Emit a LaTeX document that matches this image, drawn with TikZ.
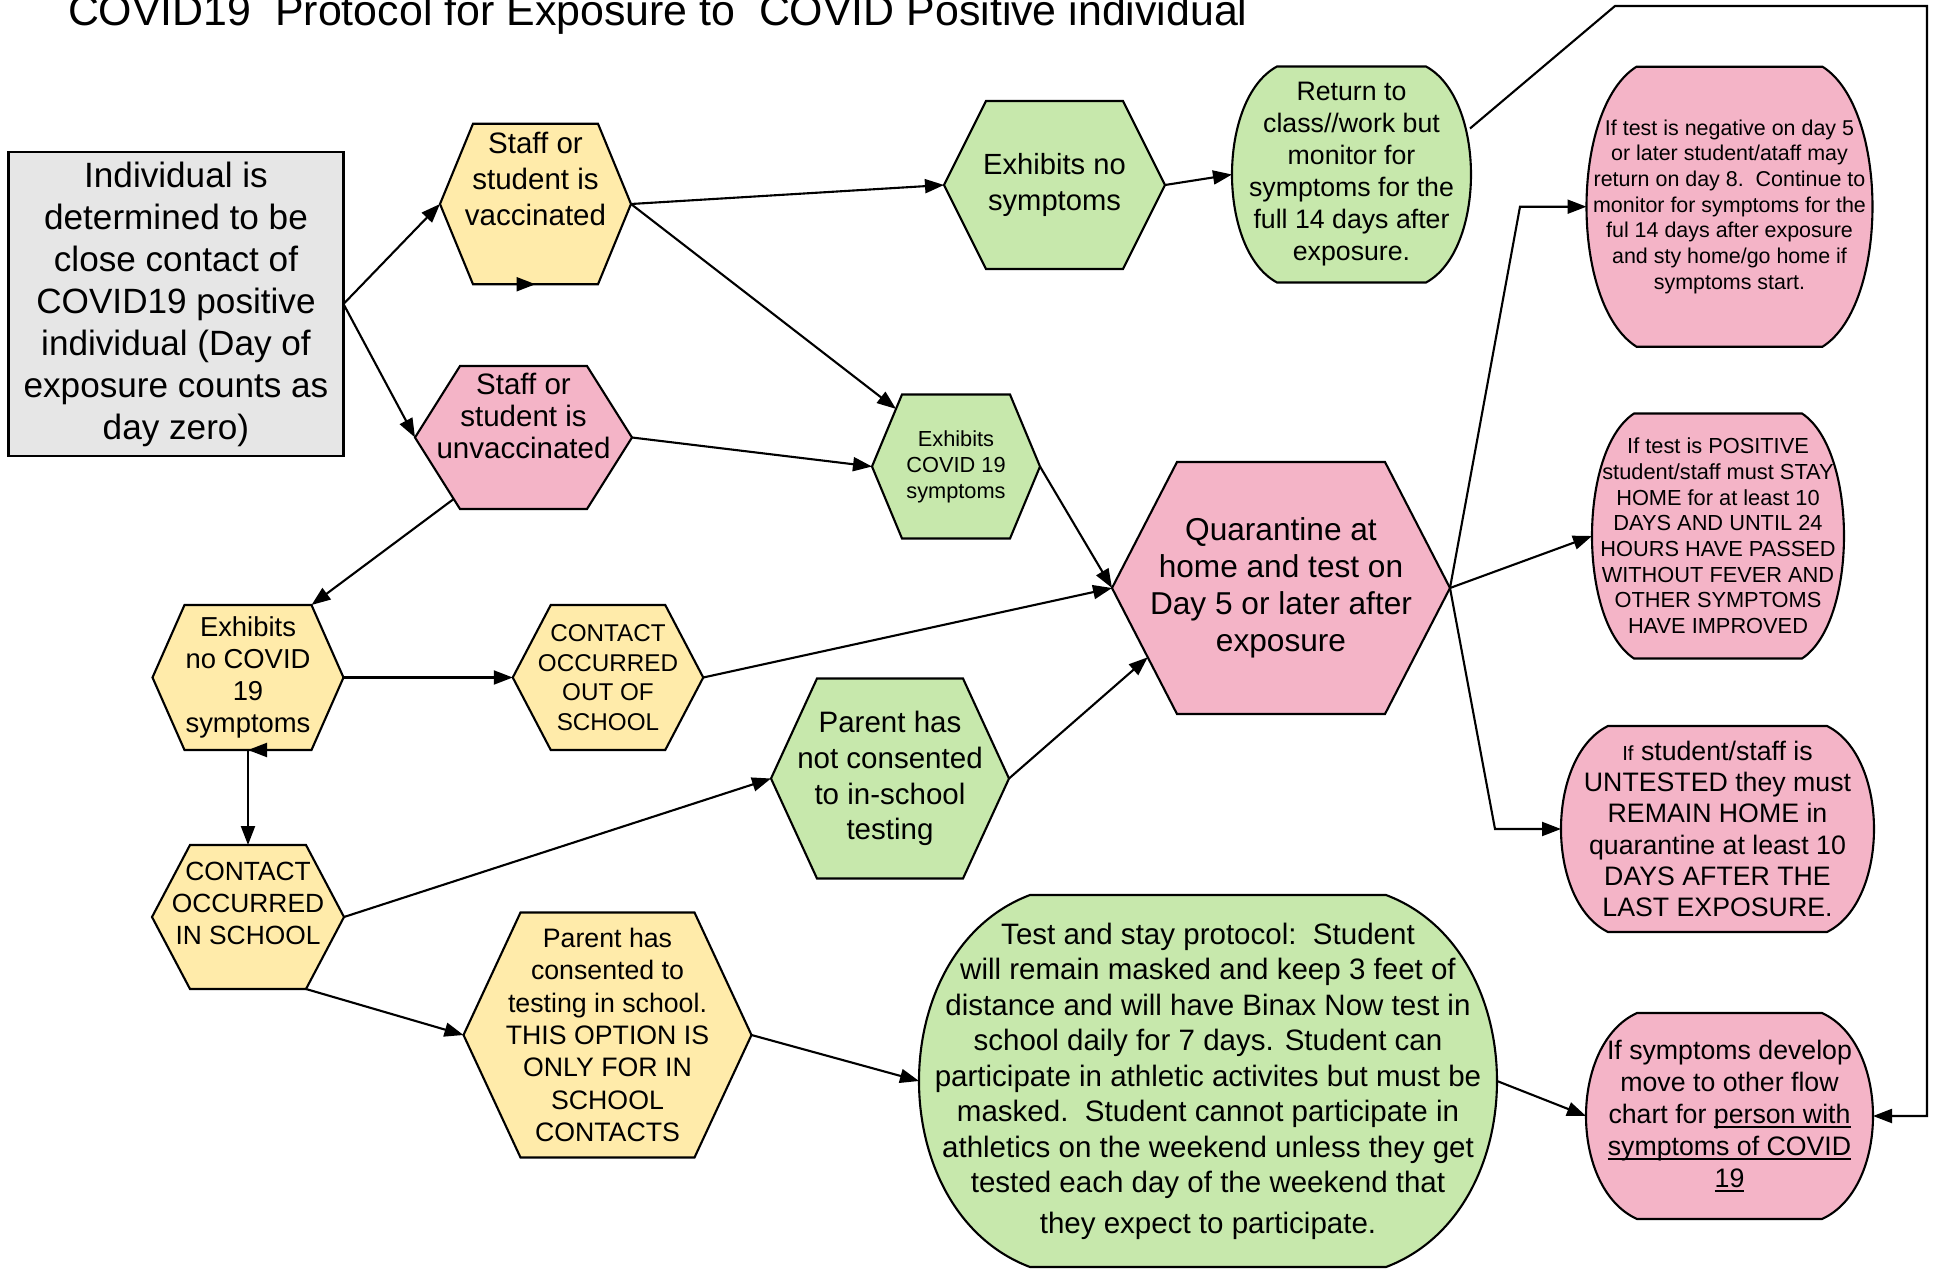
\documentclass[tikz,border=0pt]{standalone}
\usepackage{fontspec}
\setmainfont{Liberation Sans}
\usepackage{xcolor}
\usetikzlibrary{positioning,calc,arrows.meta}

\definecolor{greybox}{HTML}{E6E6E6}
\definecolor{hexyellow}{HTML}{FFEBAA}
\definecolor{hexpink}{HTML}{F4B4C7}
\definecolor{hexgreen}{HTML}{C7E8AC}

\newcommand{\fsz}[2]{\fontsize{#1}{#2}\selectfont}
\newcommand{\lift}[1]{\rule[-#1]{0pt}{#1}}
\newsavebox\ulbox
\newcommand{\uln}[1]{\sbox\ulbox{#1}\rlap{\rule[-0.35ex]{\wd\ulbox}{0.5pt}}\usebox\ulbox}

\makeatletter
\newdimen\shpL \newdimen\shpR \newdimen\shpT \newdimen\shpB
\newdimen\shpM \newdimen\shpLi \newdimen\shpRi
\newdimen\shpCt \newdimen\shpCb \newdimen\shpXl \newdimen\shpXr
\pgfkeys{/pgf/hex inset/.initial=3mm, /pgf/side bulge/.initial=4mm}
\pgfdeclareshape{hexbox}{%
  \inheritsavedanchors[from=rectangle]%
  \inheritanchorborder[from=rectangle]%
  \inheritanchor[from=rectangle]{center}%
  \inheritanchor[from=rectangle]{north}%
  \inheritanchor[from=rectangle]{south}%
  \inheritanchor[from=rectangle]{east}%
  \inheritanchor[from=rectangle]{west}%
  \inheritanchor[from=rectangle]{north east}%
  \inheritanchor[from=rectangle]{north west}%
  \inheritanchor[from=rectangle]{south east}%
  \inheritanchor[from=rectangle]{south west}%
  \inheritanchor[from=rectangle]{text}%
  \inheritanchor[from=rectangle]{base}%
  \inheritanchor[from=rectangle]{mid}%
  \backgroundpath{%
    \southwest \shpL=\pgf@x \shpB=\pgf@y
    \northeast \shpR=\pgf@x \shpT=\pgf@y
    \pgfmathsetlength\shpLi{\pgfkeysvalueof{/pgf/hex inset}}%
    \shpRi=\shpR \advance\shpRi by -\shpLi
    \advance\shpLi by \shpL
    \shpM=.5\shpT \advance\shpM by .5\shpB
    \pgfpathmoveto{\pgfqpoint{\shpL}{\shpM}}%
    \pgfpathlineto{\pgfqpoint{\shpLi}{\shpT}}%
    \pgfpathlineto{\pgfqpoint{\shpRi}{\shpT}}%
    \pgfpathlineto{\pgfqpoint{\shpR}{\shpM}}%
    \pgfpathlineto{\pgfqpoint{\shpRi}{\shpB}}%
    \pgfpathlineto{\pgfqpoint{\shpLi}{\shpB}}%
    \pgfpathclose
  }%
}
\pgfdeclareshape{bulgebox}{%
  \inheritsavedanchors[from=rectangle]%
  \inheritanchorborder[from=rectangle]%
  \inheritanchor[from=rectangle]{center}%
  \inheritanchor[from=rectangle]{north}%
  \inheritanchor[from=rectangle]{south}%
  \inheritanchor[from=rectangle]{east}%
  \inheritanchor[from=rectangle]{west}%
  \inheritanchor[from=rectangle]{north east}%
  \inheritanchor[from=rectangle]{north west}%
  \inheritanchor[from=rectangle]{south east}%
  \inheritanchor[from=rectangle]{south west}%
  \inheritanchor[from=rectangle]{text}%
  \inheritanchor[from=rectangle]{base}%
  \inheritanchor[from=rectangle]{mid}%
  \backgroundpath{%
    \southwest \shpL=\pgf@x \shpB=\pgf@y
    \northeast \shpR=\pgf@x \shpT=\pgf@y
    \pgfmathsetlength\shpLi{\pgfkeysvalueof{/pgf/side bulge}}%
    \shpM=\shpLi \divide\shpM by 3
    \shpRi=\shpR \advance\shpRi by -\shpLi
    \advance\shpLi by \shpL
    \shpCt=\shpT \advance\shpCt by -\shpB
    \shpCt=.15\shpCt
    \shpCb=\shpB \advance\shpCb by \shpCt
    \shpCt=-\shpCt \advance\shpCt by \shpT
    \shpXr=\shpR \advance\shpXr by \shpM
    \shpXl=\shpL \advance\shpXl by -\shpM
    \pgfpathmoveto{\pgfqpoint{\shpLi}{\shpT}}%
    \pgfpathlineto{\pgfqpoint{\shpRi}{\shpT}}%
    \pgfpathcurveto{\pgfqpoint{\shpXr}{\shpCt}}{\pgfqpoint{\shpXr}{\shpCb}}{\pgfqpoint{\shpRi}{\shpB}}%
    \pgfpathlineto{\pgfqpoint{\shpLi}{\shpB}}%
    \pgfpathcurveto{\pgfqpoint{\shpXl}{\shpCb}}{\pgfqpoint{\shpXl}{\shpCt}}{\pgfqpoint{\shpLi}{\shpT}}%
    \pgfpathclose
  }%
}
\makeatother

\begin{document}
\begin{tikzpicture}[x=0.1mm, y=-0.1mm,
    every node/.style={align=center, inner sep=0pt, outer sep=0pt},
    hexnode/.style={shape=hexbox, draw=black, line width=0.6pt},
    roundnode/.style={shape=bulgebox, draw=black, line width=0.6pt},
    arr/.style={-{Triangle[length=1.9mm,width=1.4mm]}, line width=0.6pt}]
    \useasboundingbox (0,0) rectangle (1937,1269);

    \node[anchor=base west, font=\fsz{12.2}{14}] (title) at (68,26) {COVID19\ \ Protocol for Exposure to\ \ COVID Positive individual};

    \node[draw=black, line width=0.6pt, fill=greybox, minimum width=33.5mm, minimum height=30.4mm, font=\fsz{10}{11.95}] (contact) at (176,304) {Individual is\\ determined to be\\ close contact of\\ COVID19 positive\\ individual (Day of\\ exposure counts as\\ day zero)};
    \node[hexnode, fill=hexyellow, minimum width=19.1mm, minimum height=16.05mm, hex inset=3.3mm, font=\fsz{8.4}{10.2}] (vacc) at (535.5,204) {Staff or\\ student is\\ vaccinated\lift{5mm}};
    \node[hexnode, fill=hexpink, minimum width=21.7mm, minimum height=14.3mm, hex inset=4.5mm, font=\fsz{8.4}{9.1}] (unvac) at (523.5,437.5) {Staff or\\ student is\\ unvaccinated\lift{4.3mm}};
    \node[hexnode, fill=hexgreen, minimum width=22.1mm, minimum height=16.8mm, hex inset=4.2mm, font=\fsz{8.3}{10.1}] (nosym) at (1054.5,185) {Exhibits no\\ symptoms};
    \node[roundnode, fill=hexgreen, minimum width=23.9mm, minimum height=21.6mm, side bulge=4.5mm, font=\fsz{7.6}{9.1}] (ret) at (1351.5,174.5) {Return to\\ class//work but\\ monitor for\\ symptoms for the\\ full 14 days after\\ exposure.};
    \node[roundnode, fill=hexpink, minimum width=28.6mm, minimum height=28mm, side bulge=5mm, font=\fsz{6.1}{7.3}] (neg) at (1729.5,206.7) {If test is negative on day 5\\ or later student/ataff may\\ return on day 8.\ \ Continue to\\ monitor for symptoms for the\\ ful 14 days after exposure\\ and sty home/go home if\\ symptoms start.};
    \node[hexnode, fill=hexgreen, minimum width=16.8mm, minimum height=14.4mm, hex inset=3mm, font=\fsz{6.2}{7.4}] (csym) at (956,466.5) {Exhibits\\ COVID 19\\ symptoms};
    \node[hexnode, fill=hexpink, minimum width=33.8mm, minimum height=25.2mm, hex inset=6.5mm, font=\fsz{9}{10.5}] (quar) at (1281,588) {Quarantine at\\ home and test on\\ Day 5 or later after\\ exposure};
    \node[hexnode, fill=hexyellow, minimum width=19.1mm, minimum height=14.5mm, hex inset=3.2mm, font=\fsz{7.8}{9.1}] (nocov) at (248,677.5) {Exhibits\\ no COVID\\ 19\\ symptoms};
    \node[hexnode, fill=hexyellow, minimum width=19.05mm, minimum height=14.5mm, hex inset=3.8mm, font=\fsz{6.9}{8.4}] (outsch) at (608,677.5) {CONTACT\\ OCCURRED\\ OUT OF\\ SCHOOL};
    \node[hexnode, fill=hexyellow, minimum width=19.2mm, minimum height=14.4mm, hex inset=3.8mm, font=\fsz{7.5}{9.1}] (insch) at (248,917) {CONTACT\\ OCCURRED\\ IN SCHOOL\lift{2.8mm}};
    \node[hexnode, fill=hexgreen, minimum width=23.8mm, minimum height=20mm, hex inset=4.6mm, font=\fsz{8.4}{10.2}] (nocons) at (890,778.5) {Parent has\\ not consented\\ to in-school\\ testing};
    \node[hexnode, fill=hexyellow, minimum width=28.8mm, minimum height=24.5mm, hex inset=5.7mm, font=\fsz{7.6}{9.2}] (cons) at (607.5,1035) {Parent has\\ consented to\\ testing in school.\\ THIS OPTION IS\\ ONLY FOR IN\\ SCHOOL\\ CONTACTS};
    \node[roundnode, fill=hexgreen, minimum width=57.8mm, minimum height=37.2mm, side bulge=11.1mm, font=\fsz{8.4}{10.1}] (stay) at (1208,1081) {Test and stay protocol:\ \ Student\\ will remain masked and keep 3 feet of\\ distance and will have Binax Now test in\\ school daily for 7 days. Student can\\ participate in athletic activites but must be\\ masked.\ \ Student cannot participate in\\ athletics on the weekend unless they get\\ tested each day of the weekend that\\[0.5mm] they expect to participate.};
    \node[roundnode, fill=hexpink, minimum width=25.2mm, minimum height=24.5mm, side bulge=4.2mm, font=\fsz{6.2}{7.3}] (pos) at (1718,536) {If test is POSITIVE\\ student/staff must STAY\\ HOME for at least 10\\ DAYS AND UNTIL 24\\ HOURS HAVE PASSED\\ WITHOUT FEVER AND\\ OTHER SYMPTOMS\\ HAVE IMPROVED};
    \node[roundnode, fill=hexpink, minimum width=31.3mm, minimum height=20.6mm, side bulge=4.7mm, font=\fsz{7.6}{8.9}] (untest) at (1717.5,829) {{\fsz{5.8}{8.9}If} student/staff is\\ UNTESTED they must\\ REMAIN HOME in\\ quarantine at least 10\\ DAYS AFTER THE\\ LAST EXPOSURE.};
    \node[roundnode, fill=hexpink, minimum width=28.7mm, minimum height=20.6mm, side bulge=5.1mm, font=\fsz{7.6}{9.1}] (symp) at (1729.5,1116) {If symptoms develop\\ move to other flow\\ chart for \uln{person with}\\ \uln{symptoms of COVID}\\ \uln{19}};

    \coordinate (csym-nw) at ($(csym.north west)+(30,0)$);
    \coordinate (unvac-sw) at ($(unvac.south west)+(45,0)$);
    \coordinate (nocov-ne) at ($(nocov.north east)+(-32,0)$);
    \coordinate (quar-sw) at ($(quar.south west)+(65,0)$);
    \coordinate (insch-se) at ($(insch.south east)+(-38,0)$);
    \coordinate (negbend) at (1520,0);
    \coordinate (untbend) at (1495,0);
    \coordinate (loopa) at (1615,6);
    \coordinate (loopb) at (1927,6);

    \draw[arr] (contact.east) -- (vacc.west);
    \draw[arr] (contact.east) -- (unvac.west);
    \draw[arr] (vacc.east) -- (nosym.west);
    \draw[arr] (vacc.east) -- ($(csym-nw)!0.2!(csym.west)$);
    \draw[arr] ($(vacc.south)+(-23,0)$) -- (vacc.south);
    \draw[arr] (unvac.east) -- (csym.west);
    \draw[arr] ($(unvac.west)!0.86!(unvac-sw)$) -- (nocov-ne);
    \draw[arr] (nosym.east) -- (ret.west);
    \draw[arr] (csym.east) -- (quar.west);
    \draw[arr] (outsch.east) -- (quar.west);
    \draw[arr] (nocons.east) -- ($(quar.west)!0.55!(quar-sw)$);
    \draw[arr] (nocov.east) -- (outsch.west);
    \draw[arr] (nocov.south) -- (insch.north);
    \draw[arr] ($(nocov.south)+(21,0)$) -- (nocov.south);
    \draw[arr] (insch.east) -- (nocons.west);
    \draw[arr] (insch-se) -- (cons.west);
    \draw[arr] (cons.east) -- (stay.west);
    \draw[arr] (stay.east) -- (symp.west);
    \draw[arr] (quar.east) -- (negbend |- neg.west) -- (neg.west);
    \draw[arr] (quar.east) -- (pos.west);
    \draw[arr] (quar.east) -- (untbend |- untest.west) -- (untest.west);
    \draw[arr] ($(ret.east)+(-1,-46)$) -- (loopa) -- (loopb) |- (symp.east);
\end{tikzpicture}
\end{document}
